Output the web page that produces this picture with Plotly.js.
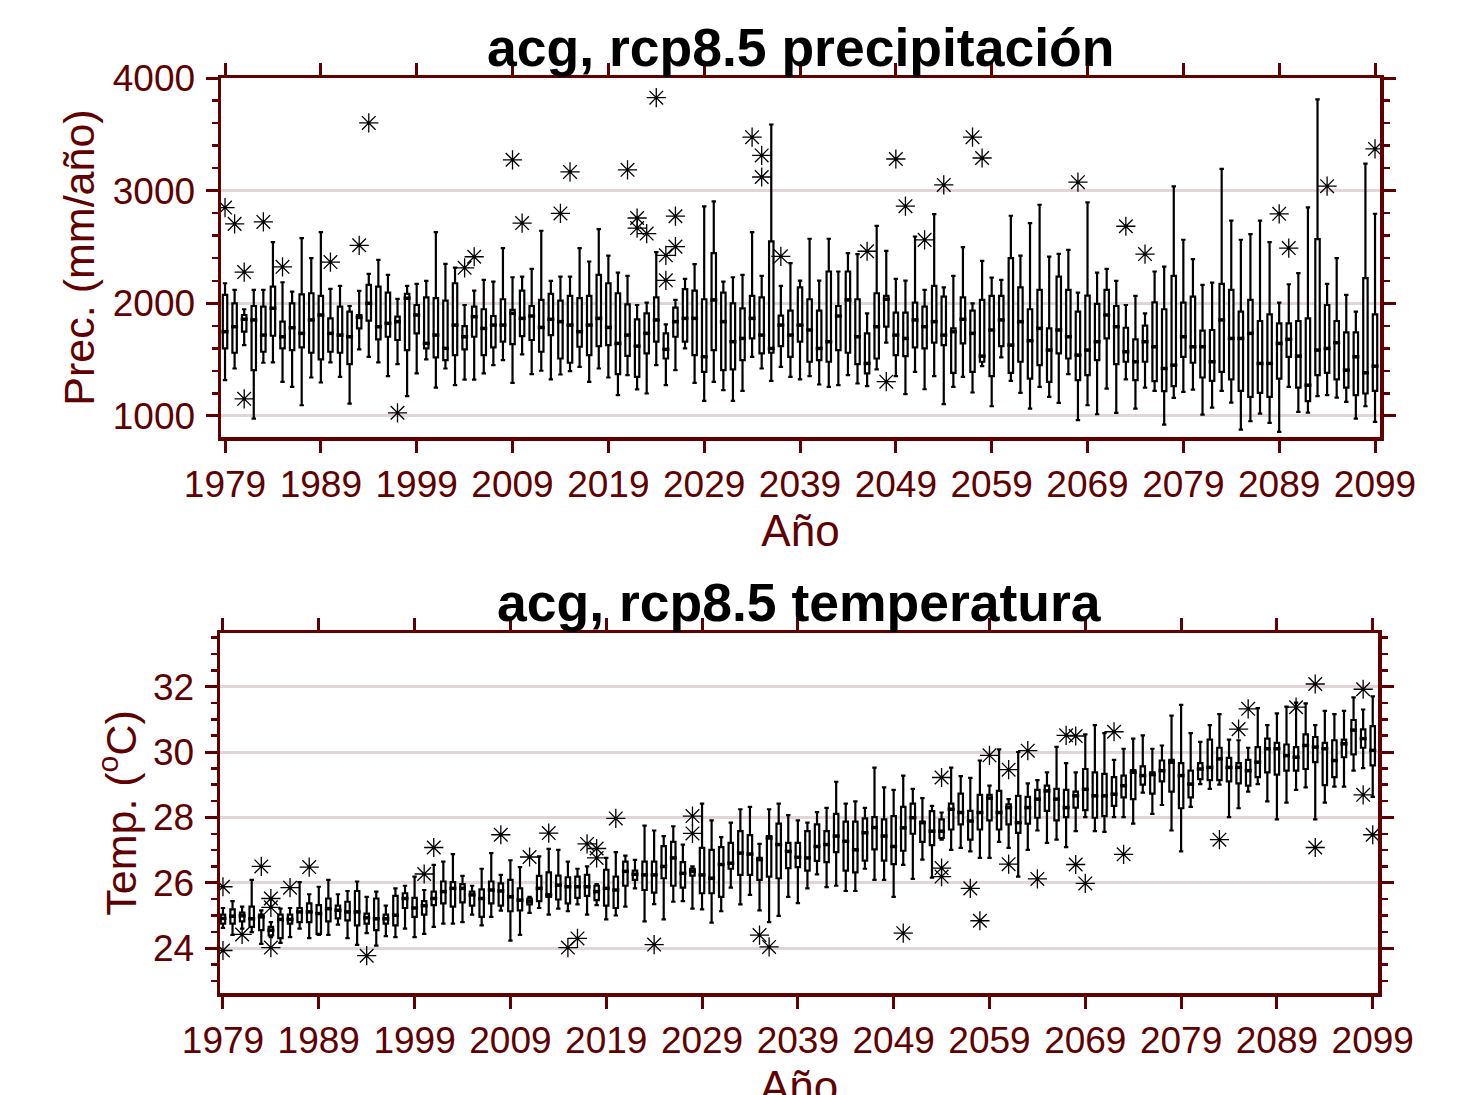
<!DOCTYPE html>
<html>
<head>
<meta charset="utf-8">
<script src="https://cdn.plot.ly/plotly-3.0.1.min.js"></script>
<style>html,body{margin:0;padding:0;background:#fff;}#chart{width:1475px;height:1095px;}</style>
</head>
<body>
<div id="chart"></div>
<script>
const firstYear = 1979, nYears = 121;
const years = Array.from({length: nYears}, (_, i) => firstYear + i);
const decadeTicks = [1979,1989,1999,2009,2019,2029,2039,2049,2059,2069,2079,2089,2099];

const precUpper = [2178,2119,1947,2119,2119,2543,2187,2104,2579,2401,
2632,2128,2154,1976,2110,2261,2386,2252,2039,2154,
2172,2199,2632,2350,2317,1985,2113,2208,2193,2490,
2231,2237,2306,2644,2199,2237,2237,2490,2371,2659,
2424,2273,2243,1985,2006,2454,1813,2030,2217,2347,
2860,2905,2193,2231,2252,2632,2243,3587,2154,2356,
2202,2573,2202,2573,2282,2445,2436,1911,2688,2466,
2217,2202,2593,2119,2792,2142,2243,2498,2000,2377,
2228,2208,2777,2424,2712,2875,2415,2439,2475,2095,
2896,2273,2306,2199,1985,2065,1911,2282,2326,3038,
2564,2392,2163,2184,3193,2733,2564,2614,2733,2543,
2006,2169,2267,2852,3810,2172,2401,2074,1926,3240,
2795];
const precQ3 = [2074,2000,1896,1976,1970,2148,1837,2000,2080,2089,
2065,1866,1970,1926,1896,2163,2148,2095,1881,2083,
1985,2053,2045,2024,2178,1798,1970,1947,1887,2036,
1941,2113,1976,2030,2083,2024,2065,2045,2065,2252,
2178,2089,1991,1858,1911,2053,1733,1961,2125,2113,
2036,2445,2095,2000,1955,2065,2053,2549,1890,1935,
2142,2036,1935,2282,1976,2282,2036,1733,2089,2065,
1917,1917,2006,1970,2154,2059,1777,2053,1935,2030,
2065,2065,2401,2142,1947,2119,1777,2237,2119,1926,
2068,1994,2119,1976,1783,1680,1801,2009,1947,2243,
2006,2059,1757,1763,2172,2119,1926,2030,1843,1902,
1822,1822,1843,1866,2570,1985,1843,1742,1742,2223,
1902];
const precMedian = [1748,1792,1858,1852,1718,1956,1703,1783,1733,1852,
1896,1733,1718,1703,1875,2000,1792,1822,1837,2045,
1896,1644,1718,1600,1807,1703,1881,1777,1807,1807,
1911,1866,1887,1786,1858,1837,1807,1748,1807,1866,
1786,1644,1718,1620,1733,1852,1591,1837,1866,1866,
1525,2030,1837,1659,1688,1866,1718,1599,1807,1718,
1807,1763,1599,1659,1887,2030,1703,1466,1792,2036,
1718,1688,1852,1792,1837,1718,1748,1858,1733,1531,
1763,1852,1629,1837,1668,1777,1585,1763,1703,1540,
1585,1659,1896,1792,1570,1481,1659,1614,1421,1451,
1703,1614,1614,1481,1852,1688,1688,1733,1466,1466,
1644,1680,1531,1273,1585,1599,1650,1407,1525,1383,
1442];
const precQ1 = [1600,1561,1748,1407,1570,1712,1600,1585,1608,1561,
1502,1570,1561,1460,1777,1846,1680,1703,1674,1585,
1733,1600,1519,1496,1540,1591,1703,1540,1608,1659,
1638,1709,1674,1570,1718,1510,1472,1614,1540,1620,
1629,1371,1534,1347,1555,1659,1510,1703,1659,1540,
1392,1585,1407,1413,1496,1688,1555,1561,1620,1525,
1659,1481,1496,1481,1585,1561,1460,1377,1510,1792,
1540,1531,1608,1599,1650,1629,1383,1644,1392,1481,
1353,1620,1383,1481,1332,1451,1303,1555,1510,1318,
1362,1496,1688,1460,1481,1318,1481,1309,1220,1264,
1525,1472,1341,1312,1392,1324,1223,1169,1205,1169,
1332,1525,1252,1131,1362,1383,1324,1252,1184,1199,
1223];
const precLower = [1318,1421,1629,976,1472,1475,1303,1258,1095,1341,
1297,1475,1347,1110,1591,1525,1475,1353,1460,1175,
1377,1502,1252,1421,1273,1323,1323,1377,1451,1496,
1294,1546,1371,1401,1324,1368,1398,1436,1303,1421,
1341,1184,1362,1235,1199,1451,1273,1407,1599,1294,
1134,1303,1229,1134,1223,1525,1421,1312,1436,1347,
1324,1353,1279,1258,1273,1362,1288,1264,1413,1650,
1353,1193,1392,1237,1353,1104,1258,1347,1208,1442,
1086,1519,1312,1205,1065,1258,1169,1116,1371,962,
1095,1015,1243,1027,1324,1065,1252,1223,923,1160,
1214,1234,1012,1074,1223,1119,878,953,1021,938,
858,1258,1036,1030,1175,1184,1163,1125,976,1086,
947];
const precOutYear = [1979,1980,1981,1981,1983,1985,1990,1993,1994,1997,2004,2005,2009,2010,2014,2015,2021,2022,2022,2023,2024,2025,2025,2026,2026,2034,2035,2035,2037,2046,2048,2049,2050,2052,2054,2057,2058,2068,2073,2075,2089,2090,2094,2099];
const precOutValue = [2850,2705,2277,1152,2722,2324,2366,2515,3601,1028,2315,2413,3274,2712,2798,3166,3185,2757,2668,2619,3825,2426,2204,2773,2503,3475,3313,3121,2417,2462,1304,3281,2862,2563,3051,3475,3290,3075,2684,2437,2794,2490,3040,3370];

const tempUpper = [25.23,25.44,25.27,26.09,25.16,24.8,25.21,25.23,26.02,25.65,
25.88,26.09,25.65,25.75,26.04,25.57,25.73,25.3,25.83,25.91,
26.19,25.78,26.55,26.65,26.88,26.21,25.91,26.43,26.91,26.24,
26.69,26.48,25.57,26.81,27.04,27.01,26.65,26.43,26.5,25.96,
26.76,26.94,26.83,26.7,27.75,27.6,27.43,27.73,27.17,26.5,
28.42,27.91,27.4,27.84,28.25,28.32,27.19,28.25,28.42,28.07,
27.91,27.84,28.16,28.29,29.09,28.42,28.49,28.29,29.52,28.92,
28.84,29.28,28.87,28.59,28.35,28.15,29.52,29.26,29.21,29.74,
28.97,30.08,28.56,30.0,29.04,29.14,29.38,30.16,29.66,29.38,
30.54,30.82,30.58,29.76,30.1,30.41,30.51,30.1,30.2,31.11,
31.44,30.58,30.31,30.82,31.16,30.38,30.36,30.13,31.34,30.82,
31.18,31.39,31.51,31.49,30.82,31.26,31.16,31.26,31.67,31.3,
31.7];
const tempQ3 = [25.03,25.19,25.09,25.27,25.03,24.65,25.03,25.03,25.23,25.37,
25.32,25.52,25.3,25.42,25.75,25.06,25.52,25.03,25.6,25.68,
25.54,25.44,25.73,26.04,26.02,25.96,25.73,25.8,26.04,25.98,
26.09,25.83,25.52,26.21,26.32,26.22,26.17,26.19,26.24,25.91,
26.4,26.19,26.65,26.37,26.65,26.65,27.12,27.25,26.63,26.43,
27.07,27.01,27.09,27.22,27.58,27.46,26.76,27.43,27.81,27.22,
27.22,27.58,27.79,27.58,28.11,27.87,27.87,27.97,28.01,27.94,
28.04,28.32,28.42,27.87,28.19,27.94,28.42,28.73,28.2,28.69,
28.69,28.81,28.4,28.66,28.63,28.84,28.97,28.87,28.84,28.79,
29.48,29.38,29.33,29.23,29.28,29.45,29.56,29.38,29.74,29.76,
29.66,29.43,29.66,30.38,30.13,29.82,29.66,29.76,30.15,30.41,
30.28,30.23,30.15,30.54,30.46,30.28,30.36,30.38,30.98,30.69,
30.79];
const tempMedian = [24.91,24.98,24.99,24.9,24.96,24.55,24.88,24.88,25.11,25.11,
25.06,25.21,25.16,25.11,25.11,24.93,24.9,24.9,25.01,25.52,
25.23,25.3,25.52,25.73,25.83,25.83,25.63,25.52,25.78,25.75,
25.57,25.47,25.44,25.83,25.63,25.93,25.88,25.88,25.88,25.73,
25.83,25.78,26.35,26.26,26.24,26.24,26.5,26.76,26.29,26.35,
26.24,26.14,26.56,26.6,26.91,26.88,26.71,27.37,27.17,26.96,
26.78,26.76,27.11,27.17,27.43,27.27,27.01,27.53,27.69,27.43,
27.11,27.68,27.99,27.84,27.58,27.58,28.25,28.15,27.89,28.15,
28.59,28.15,28.3,27.84,28.3,28.56,28.81,28.56,28.3,28.66,
28.86,28.66,28.66,28.71,28.97,29.38,29.28,29.31,29.43,29.69,
29.28,29.02,29.48,29.53,29.79,29.53,29.53,29.43,29.69,30.1,
30.1,29.89,29.84,30.2,30.15,30.1,29.74,30.25,30.67,30.41,
30.05];
const tempQ1 = [24.75,24.75,24.82,24.65,24.55,24.39,24.31,24.75,24.8,24.8,
24.44,24.82,24.91,24.85,24.7,24.75,24.55,24.75,24.7,25.23,
24.96,25.03,25.32,25.37,25.27,25.4,25.3,24.96,25.37,25.3,
25.13,25.16,25.34,25.44,25.57,25.49,25.37,25.54,25.6,25.47,
25.3,25.23,25.91,26.09,25.78,25.7,26.14,25.91,25.85,26.22,
25.68,25.68,25.57,26.43,26.24,26.24,26.09,26.19,26.14,26.45,
26.48,26.37,26.67,26.63,26.94,26.37,26.32,26.68,27.02,26.68,
26.57,26.98,27.5,27.25,27.15,27.37,27.63,27.79,27.32,27.63,
27.91,27.63,27.79,27.53,27.81,27.99,28.2,27.91,28.01,28.3,
28.22,27.99,28.04,28.35,28.61,28.56,29.0,28.73,29.1,28.79,
28.28,28.61,29.17,29.14,29.14,29.1,29.04,28.97,29.23,29.38,
29.31,29.43,29.43,29.48,29.69,28.99,29.23,29.84,29.93,30.13,
29.59];
const tempLower = [24.62,24.41,24.6,24.49,24.13,24.34,24.16,24.34,24.6,24.31,
24.41,24.41,24.72,24.31,24.1,24.46,24.08,24.37,24.34,24.6,
24.34,24.44,24.65,24.75,24.75,24.8,25.03,24.7,24.96,25.15,
24.23,24.41,25.08,25.23,25.03,25.21,25.13,25.34,25.03,25.32,
24.88,25.0,25.27,25.83,24.82,25.35,24.88,25.42,25.44,25.21,
25.19,24.78,25.13,25.85,25.34,25.63,25.16,24.8,24.99,25.57,
25.38,25.83,26.26,25.87,25.91,25.75,25.75,26.43,26.09,26.09,
25.57,26.55,26.12,26.71,26.16,27.32,27.01,27.07,26.96,26.76,
26.76,27.25,27.07,26.19,27.01,27.6,27.22,27.32,27.09,27.58,
28.01,27.58,27.56,28.01,28.01,27.81,28.76,28.11,28.38,27.6,
26.96,28.32,29.02,28.87,29.0,28.01,28.28,28.79,29.02,28.49,
27.94,28.45,28.84,28.92,27.94,28.45,28.94,28.94,29.43,29.51,
28.63];
const tempOutYear = [1979,1979,1981,1983,1984,1984,1984,1986,1988,1994,2000,2001,2008,2011,2013,2015,2016,2017,2018,2018,2020,2024,2028,2028,2035,2036,2050,2054,2054,2054,2057,2058,2059,2061,2061,2063,2064,2067,2068,2068,2069,2072,2073,2083,2085,2086,2091,2093,2093,2098,2098,2099];
const tempOutValue = [25.88,23.93,24.42,26.5,25.52,25.25,24.02,25.85,26.48,23.77,26.27,27.08,27.47,26.79,27.52,24.02,24.3,27.19,27.05,26.76,27.97,24.11,28.04,27.51,24.4,24.04,24.46,29.22,26.45,26.19,25.83,24.84,29.9,29.46,26.57,30.04,26.12,30.51,30.49,26.56,25.98,30.62,26.87,27.32,30.7,31.32,31.37,32.08,27.08,31.92,28.69,27.47];

const AX = '#600000';
const GRID = '#e2d5d5';
const FONT = 'Liberation Sans, Arial, sans-serif';

function boxTrace(xa, ya, q1, med, q3, lo, up) {
  return {type:'box', x: years, q1: q1, median: med, q3: q3, lowerfence: lo, upperfence: up,
    xaxis: xa, yaxis: ya, boxpoints: false, width: 0.46, whiskerwidth: 1,
    fillcolor: 'white', line: {color: 'black', width: 2.2}, hoverinfo: 'skip'};
}
function medTrace(xa, ya, med) {
  return {type:'scatter', mode:'markers', x: years, y: med, xaxis: xa, yaxis: ya,
    marker: {symbol: 'line-ew-open', size: 5, color: 'black', line: {color: 'black', width: 3.5}}, hoverinfo: 'skip'};
}
function outTrace(xa, ya, xs, ys) {
  return {type:'scatter', mode:'markers', x: xs, y: ys, xaxis: xa, yaxis: ya,
    marker: {symbol: 'asterisk-open', size: 16, color: 'black', line: {color: 'black', width: 1.3}}, hoverinfo: 'skip'};
}

const data = [
  boxTrace('x','y', precQ1, precMedian, precQ3, precLower, precUpper),
  medTrace('x','y', precMedian),
  outTrace('x','y', precOutYear, precOutValue),
  boxTrace('x2','y2', tempQ1, tempMedian, tempQ3, tempLower, tempUpper),
  medTrace('x2','y2', tempMedian),
  outTrace('x2','y2', tempOutYear, tempOutValue)
];

function xAxis(dom, rng, anchor, titleText) {
  return {domain: dom, range: rng, anchor: anchor, tickmode: 'array', tickvals: decadeTicks,
    ticks: 'outside', ticklen: 12, tickwidth: 3, tickcolor: AX, ticklabelstandoff: 0,
    showline: true, linewidth: 3.5, linecolor: AX, mirror: 'ticks', showgrid: false, zeroline: false,
    tickfont: {family: FONT, size: 37, color: AX},
    title: {text: titleText, font: {family: FONT, size: 44, color: AX}, standoff: 12}};
}
function yAxis(dom, rng, anchor, dtick, minorDtick, title, standoff) {
  return {domain: dom, range: rng, anchor: anchor, tick0: 0, dtick: dtick,
    ticks: 'outside', ticklen: 12, tickwidth: 3, tickcolor: AX, ticklabelstandoff: 3,
    minor: {dtick: minorDtick, tick0: 0, ticks: 'outside', ticklen: 6, tickwidth: 2.5, tickcolor: AX, showgrid: false},
    showline: true, linewidth: 3.5, linecolor: AX, mirror: 'ticks',
    showgrid: true, gridcolor: GRID, gridwidth: 3, zeroline: false,
    tickfont: {family: FONT, size: 37, color: AX},
    title: {text: title, font: {family: FONT, size: 43, color: AX}, standoff: standoff}};
}

const layout = {
  width: 1475, height: 1095, margin: {l:0, r:0, t:0, b:0},
  paper_bgcolor: 'white', plot_bgcolor: 'white', showlegend: false,
  xaxis: xAxis([221/1475, 1380/1475], [1978.58, 2099.52], 'y', 'Año'),
  yaxis: yAxis([1-437/1095, 1-78/1095], [813, 4000], 'x', 1000, 200, 'Prec. (mm/año)', 5),
  xaxis2: xAxis([220/1475, 1378/1475], [1978.69, 2099.55], 'y2', ''),
  yaxis2: yAxis([1-993/1095, 1-633/1095], [22.63, 33.64], 'x2', 2, 0.5, 'Temp. (<sup>o</sup>C)', 4),
  annotations: [
    {text: '<b>acg, rcp8.5 precipitación</b>', xref: 'paper', yref: 'paper', x: 800/1475, y: 1-47/1095,
     xanchor: 'center', yanchor: 'middle', showarrow: false, font: {family: FONT, size: 53.5, color: 'black'}},
    {text: '<b>acg, rcp8.5 temperatura</b>', xref: 'paper', yref: 'paper', x: 799/1475, y: 1-602/1095,
     xanchor: 'center', yanchor: 'middle', showarrow: false, font: {family: FONT, size: 53.5, color: 'black'}},
    {text: 'Año', xref: 'paper', yref: 'paper', x: 799/1475, y: 1-1086/1095,
     xanchor: 'center', yanchor: 'middle', showarrow: false, font: {family: FONT, size: 44, color: AX}}
  ]
};

Plotly.newPlot('chart', data, layout, {staticPlot: true, displayModeBar: false});
</script>
</body>
</html>
